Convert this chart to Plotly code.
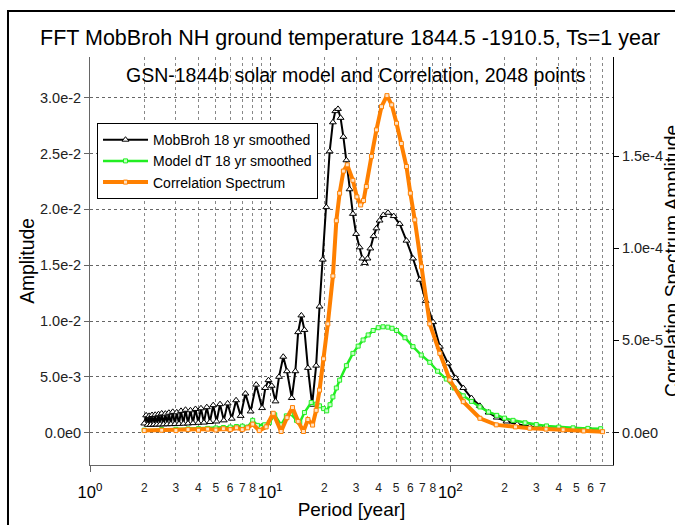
import math
import plotly.graph_objects as go

# ---------------- data ----------------
period_black = [2.0, 2.05, 2.09, 2.13, 2.17, 2.21, 2.26, 2.30, 2.35, 2.40, 2.45, 2.50, 2.56, 2.62,
                2.68, 2.74, 2.81, 2.88, 2.96, 3.03, 3.12, 3.20, 3.30, 3.39, 3.50, 3.61, 3.73, 3.85,
                3.99, 4.13, 4.29, 4.45, 4.63, 4.83, 5.04, 5.27, 5.53, 5.81, 6.12, 6.47, 6.86, 7.29,
                7.79, 8.36, 9.02, 9.4, 9.79, 10.2, 10.71, 11.2, 11.82, 12.4, 13.18, 13.8, 14.3, 14.9,
                15.5, 16.2, 17.1, 18.0, 18.8, 19.6, 20.5, 21.4, 22.3, 23.0, 23.8, 24.6, 25.5, 26.5,
                27.6, 28.8, 30.0, 31.4, 32.5, 33.5, 34.7, 36.0, 37.5, 38.9, 40.5, 42.5, 45.1, 48.5,
                52.4, 57.1, 62.1, 67.7, 73.0, 80.2, 87.5, 97.0, 107, 118, 131, 146, 163, 181, 205,
                235, 276, 330, 400, 500, 600, 683]
amp_black = [0.00082, 0.00155, 0.00070, 0.00150, 0.00070, 0.00158, 0.00072, 0.00160, 0.00072,
             0.00165, 0.00073, 0.00172, 0.00074, 0.00170, 0.00075, 0.00178, 0.00076, 0.00186,
             0.00077, 0.00182, 0.00078, 0.00195, 0.00080, 0.00205, 0.00082, 0.00200, 0.00085,
             0.00212, 0.00088, 0.00218, 0.00090, 0.00228, 0.00095, 0.00246, 0.00100, 0.00255,
             0.00110, 0.00262, 0.00125, 0.00290, 0.00150, 0.00350, 0.00190, 0.00430, 0.00220,
             0.00400, 0.00470, 0.00420, 0.00280, 0.00500, 0.00680, 0.00550, 0.00310, 0.00550,
             0.00900, 0.01050, 0.00920, 0.00580, 0.00250, 0.00600, 0.01130, 0.01550, 0.02020,
             0.02520, 0.02780, 0.02880, 0.02900, 0.02820, 0.02650, 0.02440, 0.02180, 0.01960,
             0.01780, 0.01660, 0.01560, 0.01520, 0.01560, 0.01650, 0.01760, 0.01830, 0.01900,
             0.01950, 0.01970, 0.01940, 0.01870, 0.01720, 0.01560, 0.01370, 0.01180, 0.00990,
             0.00770, 0.00620, 0.00490, 0.00400, 0.00310, 0.00240, 0.00180, 0.00135, 0.00100,
             0.00075, 0.00054, 0.00042, 0.00033, 0.00027, 0.00023, 0.00020]

period_model = [2.0, 2.5, 3.0, 3.5, 4.0, 4.5, 5.0, 5.5, 6.0, 6.5, 7.0, 7.5, 8.0, 8.5, 9.3, 9.9,
                10.6, 11.5, 12.3, 13.0, 14.0, 14.6, 15.5, 16.9, 18.0, 18.8, 19.8, 20.6, 21.5,
                22.3, 23.3, 24.3, 26.5, 28.8, 30.8, 32.8, 35.0, 37.3, 39.8, 42.3, 45.0, 47.5,
                50.3, 56.0, 62.1, 69.0, 76.9, 85.0, 95.0, 105, 118, 131, 146, 163, 181, 200, 223,
                260, 300, 342, 400, 480, 580, 683]
amp_model = [0.00022, 0.00028, 0.00030, 0.00033, 0.00036, 0.00038, 0.00042, 0.00046, 0.00050,
             0.00055, 0.00058, 0.00050, 0.00110, 0.00065, 0.00070, 0.00090, 0.00160, 0.00070,
             0.00150, 0.00170, 0.00110, 0.00090, 0.00180, 0.00270, 0.00255, 0.00240, 0.00215,
             0.00195, 0.00250, 0.00320, 0.00400, 0.00470, 0.00600, 0.00710, 0.00775, 0.00830,
             0.00875, 0.00915, 0.00940, 0.00948, 0.00945, 0.00935, 0.00915, 0.00850, 0.00770,
             0.00695, 0.00630, 0.00550, 0.00480, 0.00400, 0.00330, 0.00280, 0.00230, 0.00185,
             0.00155, 0.00130, 0.00110, 0.00088, 0.00072, 0.00060, 0.00050, 0.00043, 0.00038,
             0.00035]

period_corr = [2.0, 2.5, 3.0, 3.5, 4.0, 4.5, 5.0, 5.5, 6.0, 6.5, 7.0, 7.5, 8.0, 8.7, 9.5, 10.4,
               11.5, 12.4, 13.3, 14.3, 15.3, 16.2, 17.2, 18.0, 18.8, 19.8, 20.9, 22.3, 23.3, 24.3,
               25.5, 26.8, 28.8, 30.3, 31.8, 33.0, 34.2, 36.5, 38.9, 41.5, 44.5, 47.3, 50.3, 53.5,
               57.1, 60.0, 63.5, 69.2, 76.9, 87.5, 99.4, 118, 146, 180, 230, 276, 340, 423, 550,
               700]
amp_corr = [1.0e-6, 1.2e-6, 1.0e-6, 1.5e-6, 1.2e-6, 1.8e-6, 1.3e-6, 2.0e-6, 1.5e-6, 2.5e-6,
            1.5e-6, 2.5e-6, 4.5e-6, 1.0e-6, 3.0e-6, 1.04e-5, 5.0e-7, 8.0e-6, 1.35e-5, 6.0e-6,
            5.0e-7, 7.0e-6, 4.0e-6, 1.2e-5, 2.3e-5, 4.0e-5, 5.9e-5, 8.5e-5, 1.15e-4, 1.30e-4,
            1.42e-4, 1.454e-4, 1.37e-4, 1.28e-4, 1.236e-4, 1.26e-4, 1.336e-4, 1.50e-4, 1.644e-4,
            1.77e-4, 1.83e-4, 1.78e-4, 1.68e-4, 1.57e-4, 1.445e-4, 1.30e-4, 1.155e-4, 9.0e-5,
            5.9e-5, 4.3e-5, 2.85e-5, 1.67e-5, 7.7e-6, 4.1e-6, 3.0e-6, 2.3e-6, 1.8e-6, 1.4e-6,
            8.0e-7, 4.0e-7]

left_tick_vals = [0.0, 0.005, 0.01, 0.015, 0.02, 0.025, 0.03]
left_tick_text = ["0.0e0", "5.0e-3", "1.0e-2", "1.5e-2", "2.0e-2", "2.5e-2", "3.0e-2"]
right_tick_vals = [0.0, 5e-5, 1e-4, 1.5e-4]
right_tick_text = ["0.0e0", "5.0e-5", "1.0e-4", "1.5e-4"]
major_x_vals = [1, 10, 100]
major_x_text = ["10<sup>0</sup>", "10<sup>1</sup>", "10<sup>2</sup>"]
digit_x_vals = [2, 3, 4, 5, 6, 7, 8, 20, 30, 40, 50, 60, 70, 80, 200, 300, 400, 500, 600, 700]
digit_x_text = ["2", "3", "4", "5", "6", "7", "8", "2", "3", "4", "5", "6", "7", "8",
                "2", "3", "4", "5", "6", "7"]
minor_grid_vals = [2, 3, 4, 5, 6, 7, 8, 9, 20, 30, 40, 50, 60, 70, 80, 90,
                   200, 300, 400, 500, 600, 700]

FONT = "Liberation Sans, Arial, sans-serif"
X_RANGE = [0, math.log10(800)]
ORANGE = "#ff8000"
GREEN = "#22ee22"

fig = go.Figure()
fig.add_trace(go.Scatter(
    x=period_black, y=amp_black, mode="lines+markers", name="MobBroh 18 yr smoothed",
    line=dict(color="black", width=2),
    marker=dict(symbol="triangle-up", size=6, color="white", line=dict(color="black", width=1)),
))
fig.add_trace(go.Scatter(
    x=period_model, y=amp_model, mode="lines+markers", name="Model dT 18 yr smoothed",
    line=dict(color=GREEN, width=2.5),
    marker=dict(symbol="square", size=4, color="#c8ffc8", line=dict(color=GREEN, width=1)),
))
fig.add_trace(go.Scatter(
    x=period_corr, y=amp_corr, mode="lines+markers", name="Correlation Spectrum",
    yaxis="y2",
    line=dict(color=ORANGE, width=4),
    marker=dict(symbol="square", size=4, color="#ffe2c4", line=dict(color=ORANGE, width=1)),
))
# empty helper trace so the digit-label axis is drawn
fig.add_trace(go.Scatter(x=[], y=[], xaxis="x2", showlegend=False, hoverinfo="skip"))

fig.update_layout(
    width=675, height=525,
    margin=dict(l=90, r=62, t=57, b=60, autoexpand=False),
    paper_bgcolor="white", plot_bgcolor="white",
    font=dict(family=FONT, color="black"),
    showlegend=True,
    legend=dict(x=0.0134, y=0.838, xanchor="left", yanchor="top",
                bgcolor="white", bordercolor="black", borderwidth=1,
                font=dict(size=14, family=FONT), itemwidth=45, tracegroupgap=0),
    xaxis=dict(
        type="log", range=X_RANGE, tickmode="array", tickvals=major_x_vals, ticktext=major_x_text,
        ticks="outside", ticklen=6, tickcolor="#666", tickfont=dict(size=16.5, color="black"),
        ticklabelstandoff=6, automargin=False,
        showline=True, linecolor="#666", linewidth=1, zeroline=False,
        showgrid=True, gridcolor="#666", griddash="dot", gridwidth=1,
        minor=dict(tickmode="array", tickvals=minor_grid_vals, showgrid=True,
                   gridcolor="#888", griddash="dot", gridwidth=1, ticks=""),
        title=dict(text="Period [year]", font=dict(size=19), standoff=2),
    ),
    xaxis2=dict(
        type="log", range=X_RANGE, overlaying="x", anchor="y", side="bottom",
        tickmode="array", tickvals=digit_x_vals, ticktext=digit_x_text, automargin=False,
        ticks="", tickfont=dict(size=12, color="#222"), ticklabelstandoff=14,
        showgrid=False, showline=False, zeroline=False,
    ),
    yaxis=dict(
        range=[-0.0029, 0.03365], tickmode="array", tickvals=left_tick_vals, ticktext=left_tick_text,
        ticks="outside", ticklen=5, tickcolor="#666", tickfont=dict(size=14.5, color="#222"),
        showline=True, linecolor="#666", linewidth=1, zeroline=False, automargin=False,
        showgrid=True, gridcolor="#666", griddash="dot", gridwidth=1,
        title=dict(text="Amplitude", font=dict(size=19.3), standoff=0),
    ),
    yaxis2=dict(
        range=[-1.77e-5, 2.04e-4], overlaying="y", side="right", anchor="x",
        tickmode="array", tickvals=right_tick_vals, ticktext=right_tick_text, automargin=False,
        ticks="outside", ticklen=5, tickcolor="black", tickfont=dict(size=14.5, color="#222"),
        showline=True, linecolor="black", linewidth=1, zeroline=False, showgrid=False,
    ),
    annotations=[
        dict(text="FFT MobBroh NH ground temperature 1844.5 -1910.5, Ts=1 year",
             xref="paper", yref="paper", x=0.497, y=1.0466, xanchor="center", yanchor="middle",
             showarrow=False, font=dict(size=21.5, family=FONT)),
        dict(text="GSN-1844b solar model and Correlation, 2048 points",
             xref="paper", yref="paper", x=0.5086, y=0.956, xanchor="center", yanchor="middle",
             showarrow=False, font=dict(size=19.5, family=FONT)),
        dict(text="Correlation Spectrum Amplitude",
             xref="paper", yref="paper", x=1.1128, y=0.5, xanchor="center", yanchor="middle",
             textangle=-90, showarrow=False, font=dict(size=19.3, family=FONT)),
    ],
    shapes=[
        dict(type="rect", xref="paper", yref="paper", x0=-0.1568, x1=1.13, y0=-0.16, y1=1.1127,
             line=dict(color="black", width=2), layer="above"),
    ],
)

fig.write_html("out.html")
